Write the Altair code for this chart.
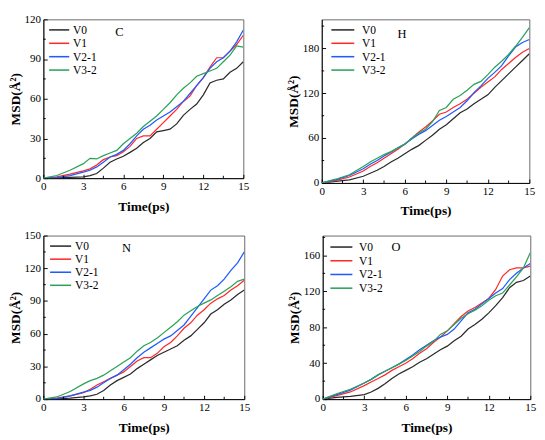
import altair as alt
import pandas as pd

time_ps = [0, 1, 2, 3, 3.5, 4, 4.5, 5, 5.5, 6, 6.5, 7, 7.5, 8, 8.5, 9, 9.5,
           10, 10.5, 11, 11.5, 12, 12.5, 13, 13.5, 14, 14.5, 15]
series = ["V0", "V1", "V2-1", "V3-2"]
colors = ["#2b2b2b", "#ff2a2a", "#1f5bff", "#2aa25a"]

# Panel C
c_v0 = [0, 0.3, 0.6, 1, 2, 3.5, 7.6, 12, 14.5, 16.6, 19.5, 22.6, 27, 30, 35, 36, 37, 41, 47.5, 52, 56, 63, 72, 74, 75, 80, 83, 88]
c_v1 = [0, 1, 3, 5.5, 7, 10, 14, 16, 17, 20, 24, 30, 32, 32, 37, 42, 47, 52, 58, 62, 70, 76, 84, 91, 91, 96, 101, 108]
c_v21 = [0, 0.5, 2, 4.5, 6, 8.5, 12, 16, 18, 21, 26, 32, 37, 40, 44, 47, 50, 54, 58, 64, 70, 76, 83, 88, 91, 96, 103, 112]
c_v32 = [0, 2, 6, 11, 15, 14.5, 17, 19, 21, 26, 30, 34, 39, 43, 47, 52, 57, 63, 68, 72, 77, 79, 81, 83, 88, 93, 100, 99]
# Panel H
h_v0 = [0, 2, 4, 9, 13, 17, 22, 28, 33, 39, 45, 50, 57, 64, 72, 78, 86, 94, 99, 106, 112, 118, 128, 137, 146, 155, 164, 173]
h_v1 = [0, 3, 8, 16, 22, 27, 33, 39, 45, 52, 60, 68, 75, 83, 92, 95, 101, 106, 112, 120, 128, 135, 142, 152, 160, 168, 175, 180]
h_v21 = [0, 4, 10, 19, 25, 30, 36, 41, 47, 52, 59, 65, 70, 77, 84, 89, 95, 101, 110, 121, 130, 140, 148, 157, 170, 182, 188, 192]
h_v32 = [0, 5, 11, 22, 28, 33, 38, 42, 47, 52, 60, 67, 72, 82, 97, 101, 112, 117, 124, 132, 136, 145, 155, 163, 172, 183, 195, 208]
# Panel N
n_v0 = [0, 0.3, 1, 2, 3, 4.5, 8, 13, 17, 20, 23, 28, 32, 36, 40, 43, 46, 49, 54, 58, 64, 70, 78, 82, 87, 91, 96, 100]
n_v1 = [0, 1, 3, 6, 9, 13, 16, 19, 22, 25, 30, 35, 38, 38, 42, 48, 52, 58, 65, 70, 77, 82, 88, 92, 95, 100, 104, 109]
n_v21 = [0, 0.5, 3, 6.5, 8, 11, 15, 19, 22, 27, 32, 38, 43, 47, 51, 55, 58, 63, 68, 76, 84, 92, 100, 104, 110, 118, 125, 135]
n_v32 = [0, 2, 7, 14, 17, 19, 22, 26, 30, 34, 38, 44, 49, 52, 56, 61, 66, 71, 77, 81, 85, 88, 91, 95, 99, 103, 108, 110]
# Panel O
o_v0 = [0, 2, 3, 5, 8, 12, 17, 23, 28, 32, 36, 41, 45, 50, 55, 59, 65, 70, 78, 83, 89, 96, 104, 113, 124, 130, 132, 137]
o_v1 = [0, 4, 8, 15, 19, 23, 27, 32, 36, 40, 45, 51, 56, 63, 69, 76, 84, 92, 98, 102, 107, 112, 122, 137, 144, 146, 146, 148]
o_v21 = [0, 5, 10, 18, 22, 27, 31, 35, 39, 44, 49, 55, 60, 65, 69, 72, 78, 87, 96, 100, 106, 112, 118, 123, 133, 140, 146, 151]
o_v32 = [0, 6, 11, 18, 22, 27, 31, 35, 39, 43, 48, 53, 59, 64, 72, 76, 83, 90, 95, 99, 104, 110, 115, 118, 127, 136, 146, 163]

x_ticks = [0, 3, 6, 9, 12, 15]
x_minor = [1.5, 4.5, 7.5, 10.5, 13.5]

FONT = "Liberation Serif"
color_enc = alt.Color("series:N", scale=alt.Scale(domain=series, range=colors), legend=None)


def panel(name, data_lists, ymax, yticks, y_minor, w, h, label_x, label_y, leg):
    rows = []
    for s, vals in zip(series, data_lists):
        for t, v in zip(time_ps, vals):
            rows.append({"t": t, "msd": v, "series": s})
    df = pd.DataFrame(rows)
    xs = alt.Scale(domain=[0, 15], nice=False, zero=False)
    ys = alt.Scale(domain=[0, ymax], nice=False, zero=False)
    lines = alt.Chart(df).mark_line(strokeWidth=1.3, clip=True).encode(
        x=alt.X("t:Q", scale=xs,
                axis=alt.Axis(values=x_ticks, title="Time(ps)", grid=False, titlePadding=8)),
        y=alt.Y("msd:Q", scale=ys,
                axis=alt.Axis(values=yticks, title="MSD(Å²)", grid=False, titlePadding=2)),
        color=color_enc,
    )
    mx = alt.Chart(pd.DataFrame({"t": x_minor})).mark_rule(color="black", strokeWidth=1).encode(
        x=alt.X("t:Q", scale=xs), y=alt.value(h), y2=alt.value(h - 2.5))
    my = alt.Chart(pd.DataFrame({"msd": y_minor})).mark_rule(color="black", strokeWidth=1).encode(
        y=alt.Y("msd:Q", scale=ys, axis=None), x=alt.value(0), x2=alt.value(2.5))
    lab = alt.Chart(pd.DataFrame({"label": [name]})).mark_text(
        font=FONT, fontSize=13, color="black", align="center", baseline="middle").encode(
        x=alt.datum(label_x), y=alt.value(label_y), text="label:N")
    x0, x1, xt, r0, r1 = leg
    leg_scale = alt.Scale(type="point", domain=series, range=[r0, r1], padding=0)
    ldf = pd.DataFrame({"series": series})
    leg_lines = alt.Chart(ldf).mark_rule(strokeWidth=1.6).encode(
        x=alt.value(x0), x2=alt.value(x1),
        y=alt.Y("series:N", scale=leg_scale, axis=None), color=color_enc)
    leg_text = alt.Chart(ldf).mark_text(
        font=FONT, fontSize=12, color="black", align="left", baseline="middle").encode(
        x=alt.value(xt), y=alt.Y("series:N", scale=leg_scale, axis=None), text="series:N")
    return alt.layer(lines, mx, my, lab, leg_lines, leg_text).resolve_scale(
        y="independent").properties(width=w, height=h)


pc = panel("C", [c_v0, c_v1, c_v21, c_v32], 120, [0, 30, 60, 90, 120], [15, 45, 75, 105],
           209, 166, 5.7, 13, (6, 27, 31, 11, 53))
ph = panel("H", [h_v0, h_v1, h_v21, h_v32], 219, [0, 60, 120, 180], [30, 90, 150, 210],
           217, 171, 5.8, 15, (10, 34, 42, 11, 53))
pn = panel("N", [n_v0, n_v1, n_v21, n_v32], 150, [0, 30, 60, 90, 120, 150], [15, 45, 75, 105, 135],
           210, 171, 6.2, 13, (7, 29, 33, 11, 52))
po = panel("O", [o_v0, o_v1, o_v21, o_v32], 182, [0, 40, 80, 120, 160], [20, 60, 100, 140, 180],
           217, 171, 5.3, 12, (8, 31, 38, 12, 55))

top = alt.hconcat(pc, ph, spacing=38)
bottom = alt.hconcat(pn, po, spacing=38)

chart = alt.vconcat(top, bottom, spacing=11).properties(
    padding={"left": 0, "top": -5, "right": 0, "bottom": 0},
    background="white",
).configure_axis(
    labelFont=FONT, labelFontSize=11.5, labelColor="black",
    titleFont=FONT, titleFontSize=14, titleFontWeight="bold", titleColor="black",
    domainColor="black", tickColor="black", tickSize={"expr": "-4"},
    labelPadding=7, domainWidth=1, labelOverlap=False, labelFlush=False,
).configure_view(stroke="#666666", strokeWidth=1)

chart.save("out.html", embed_options={"renderer": "svg", "actions": False})
